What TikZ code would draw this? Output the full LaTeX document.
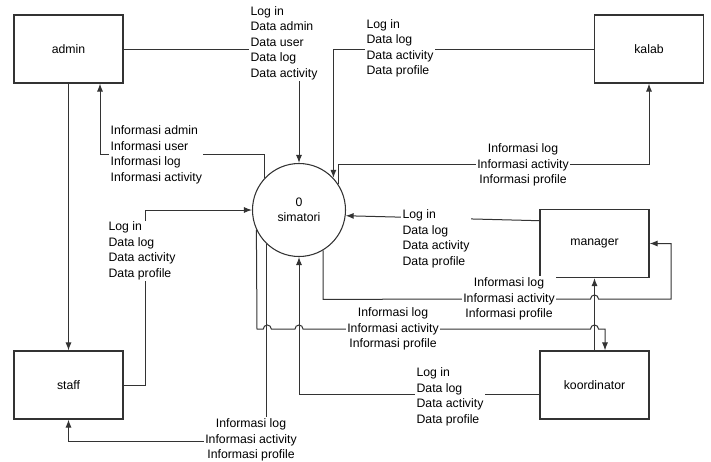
\documentclass[tikz,border=0pt]{standalone}
\usepackage{fontspec}
\setmainfont{Liberation Sans}
\usepackage{tikz}
\usetikzlibrary{arrows.meta,calc}
\tikzstyle{entitas}=[rectangle, draw=black!80, line width=0.8pt, minimum width=81.75pt, minimum height=51pt, text centered]
\tikzstyle{proses}=[circle, draw=black!80, line width=0.8pt, minimum size=69.75pt, inner sep=0pt, align=center]
\tikzstyle{ket}=[fill=white, inner sep=1pt, align=left]
\tikzstyle{kettengah}=[fill=white, inner sep=1pt, align=center]
\tikzstyle{alir}=[-{Latex[length=6pt,width=4.5pt]}, draw=black!80, line width=0.75pt]

\begin{document}
\begin{tikzpicture}[x=0.75pt, y=-0.75pt, font=\fontsize{9.2pt}{11.6pt}\selectfont]
	\useasboundingbox (0,0) rectangle (711,461);

	\node[entitas] (admin) at (68.5,49) {admin};
	\node[entitas] (kalab) at (649,49) {kalab};
	\node[entitas] (staff) at (68.5,385) {staff};
	\node[entitas] (manager) at (594.5,243.5) {manager};
	\node[entitas] (koordinator) at (594.5,385) {koordinator};
	\node[proses] (simatori) at (299,210) {0\\simatori};

	% aliran data
	\draw[alir] (admin.east) -| (simatori.north);
	\draw[alir] (simatori.137) -- ++(0,-23) -| ($(admin.south)+(31.5,0)$);
	\draw[alir] (kalab.west) -| (simatori.43);
	\draw[alir] (simatori.33) -- ++(0,-20) -| (kalab.south);
	\draw[alir] ($(manager.north west)!0.17!(manager.south west)$) -- (simatori.-7);
	\draw[alir] (simatori.-59) -- ++(0,49) -- (590.5,299)
		arc[start angle=180, end angle=0, radius=3pt] -- (671,299) |- (manager.east);
	\draw[alir] (simatori.-155) -- (257,329) -- (263.3,329)
		arc[start angle=180, end angle=0, radius=3pt] -- (295,329)
		arc[start angle=180, end angle=0, radius=3pt] -- (590.5,329)
		arc[start angle=180, end angle=0, radius=3pt] -- (605,329)
		-- ($(koordinator.north)+(10.5,0)$);
	\draw[alir] ($(koordinator.west)+(0,9)$) -| (simatori.south);
	\draw[alir] (simatori.-133) -- ++(0,197) -| (staff.south);
	\draw[alir] (staff.east) -- (145,385) -- (145,210) -- (simatori.west);
	\draw[alir] (admin.south) -- (staff.north);
	\draw[alir] (koordinator.north) -- (manager.south);

	% keterangan
	\node[ket, anchor=west] (ketAdmin) at (249,43) {Log in\\Data admin\\Data user\\Data log\\Data activity};
	\node[ket, anchor=west] (infoAdmin) at (109,155) {Informasi admin\\Informasi user\\Informasi log\\Informasi activity};
	\node[ket, anchor=west] (ketKalab) at (365,48.5) {Log in\\Data log\\Data activity\\Data profile};
	\node[kettengah] (infoKalab) at (523,165) {Informasi log\\Informasi activity\\Informasi profile};
	\node[ket, anchor=west] (ketManager) at (401,239) {Log in\\Data log\\Data activity\\Data profile};
	\node[kettengah] (infoManager) at (509,299) {Informasi log\\Informasi activity\\Informasi profile};
	\node[kettengah] (infoKoor) at (393,329) {Informasi log\\Informasi activity\\Informasi profile};
	\node[ket, anchor=west] (ketKoor) at (415,397) {Log in\\Data log\\Data activity\\Data profile};
	\node[kettengah] (infoStaff) at (251,440) {Informasi log\\Informasi activity\\Informasi profile};
	\node[ket, anchor=west] (ketStaff) at (107,251) {Log in\\Data log\\Data activity\\Data profile};
\end{tikzpicture}
\end{document}
